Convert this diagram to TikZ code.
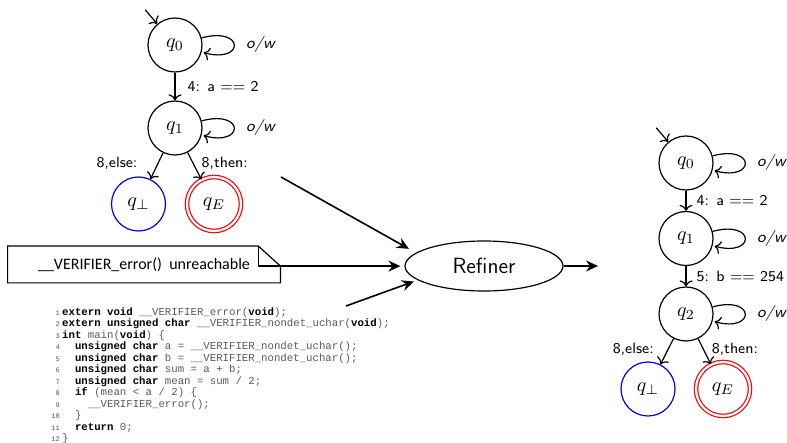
\documentclass[tikz,border=0pt]{standalone}
\usepackage{fontspec}
\newfontfamily\notefont{Carlito}
\newfontfamily\codefont{Liberation Mono}
\usetikzlibrary{automata,positioning,shapes.geometric,arrows,arrows.meta}

\newcommand{\kw}[1]{{\bfseries\color{black}#1}}
\newcommand{\lno}[1]{{\fontsize{3.5}{4}\selectfont #1}}

\begin{document}
\begin{tikzpicture}[x=0.5pt,y=0.5pt,
        font=\sffamily,
        >={To[length=3pt, width=6.5pt]},
        node distance=38pt,
        every state/.style={draw, semithick, minimum size=27pt, inner sep=0pt},
        every edge/.style={draw, semithick},
        lbl/.style={font=\sffamily\fontsize{7.5}{9}\selectfont, inner sep=1pt},
        ow/.style={font=\sffamily\itshape\footnotesize, right, xshift=2.5pt},
        sink/.style={draw=blue},
        errst/.style={draw=red, double, double distance=1.1pt, semithick},
        feed/.style={-{Stealth[length=6pt, width=5.5pt, inset=2pt]}, thick}
    ]
    \useasboundingbox (0,0) rectangle (787,-443);

    % automaton before refinement
    \node[state] (a0) at (175,-45) {$q_0$};
    \node[state, below of=a0, node distance=41.5pt] (a1) {$q_1$};
    \node[state, sink, below of=a1, xshift=-18.25pt] (abot) {$q_\bot$};
    \node[state, errst, below of=a1, xshift=19.5pt] (aerr) {$q_E$};
    \coordinate (a0in) at ([shift={(-12,14)}]a0.130);
    \draw[->, semithick] (a0in) -- (a0.130);
    \path[->] (a0) edge node[lbl, right=5pt] {4:\enspace a == 2} (a1)
              (a0) edge[loop right] node[ow] {o/w} ()
              (a1) edge[loop right] node[ow] {o/w} ()
              (a1) edge node[lbl, left=9pt, pos=0.4] {8,else:} (abot)
              (a1) edge node[lbl, right=3pt, pos=0.4] {8,then:} (aerr);

    % counterexample note
    \node[font=\notefont\footnotesize, minimum width=136pt, minimum height=18pt, inner sep=0pt] (note) at (144,-264.5) {\_\_VERIFIER\_error()\ \ unreachable};
    \draw[semithick] (note.south west) -- (note.north west) -- ([xshift=-11pt]note.north east)
        -- ([yshift=-10pt]note.north east) -- (note.south east) -- cycle;
    \draw[semithick] ([xshift=-11pt]note.north east) |- ([yshift=-10pt]note.north east);
    \coordinate (notetip) at ([yshift=-10pt]note.north east);

    % program
    \node[anchor=north west, inner sep=0pt, text=black!65, font=\codefont\fontsize{5.35}{5.73}\selectfont] (code) at (51,-307) {%
        \begin{tabular}{@{}r@{\hspace{1.2pt}}l@{}}
        \lno{1}&\kw{extern void} \_\_VERIFIER\_error(\kw{void});\\
        \lno{2}&\kw{extern unsigned char} \_\_VERIFIER\_nondet\_uchar(\kw{void});\\
        \lno{3}&\kw{int} main(\kw{void}) \{\\
        \lno{4}&~~\kw{unsigned char} a = \_\_VERIFIER\_nondet\_uchar();\\
        \lno{5}&~~\kw{unsigned char} b = \_\_VERIFIER\_nondet\_uchar();\\
        \lno{6}&~~\kw{unsigned char} sum = a + b;\\
        \lno{7}&~~\kw{unsigned char} mean = sum / 2;\\
        \lno{8}&~~\kw{if} (mean < a / 2) \{\\
        \lno{9}&~~~~\_\_VERIFIER\_error();\\
        \lno{10}&~~\}\\
        \lno{11}&~~\kw{return} 0;\\
        \lno{12}&\}
        \end{tabular}};

    % refiner
    \node[ellipse, draw, semithick, minimum width=79pt, minimum height=25pt, inner sep=0pt,
          font=\sffamily\fontsize{11}{13}\selectfont] (refiner) at (484,-266) {Refiner};
    \coordinate (autsrc) at (281,-177);
    \coordinate (codesrc) at (346,-306);
    \coordinate (refout) at (598,-266);
    \draw[feed, shorten >=4pt] (autsrc) -- (refiner.169);
    \draw[feed, shorten >=2pt] (notetip) -- (notetip -| refiner.west);
    \draw[feed, shorten >=2pt] (codesrc) -- (refiner.192);
    \draw[feed] (refiner) -- (refout);

    % refined automaton
    \node[state] (b0) at (686,-163) {$q_0$};
    \node[state, below of=b0, node distance=37.75pt] (b1) {$q_1$};
    \node[state, below of=b1, node distance=37.75pt] (b2) {$q_2$};
    \node[state, sink, below of=b2, node distance=37.5pt, xshift=-19pt] (bbot) {$q_\bot$};
    \node[state, errst, below of=b2, node distance=37.5pt, xshift=18.5pt] (berr) {$q_E$};
    \coordinate (b0in) at ([shift={(-12,14)}]b0.130);
    \draw[->, semithick] (b0in) -- (b0.130);
    \path[->] (b0) edge node[lbl, right=4pt] {4:\enspace a == 2} (b1)
              (b1) edge node[lbl, right=4pt] {5:\enspace b == 254} (b2)
              (b0) edge[loop right] node[ow] {o/w} ()
              (b1) edge[loop right] node[ow] {o/w} ()
              (b2) edge[loop right] node[ow] {o/w} ()
              (b2) edge node[lbl, left=6pt, pos=0.4] {8,else:} (bbot)
              (b2) edge node[lbl, right=3pt, pos=0.4] {8,then:} (berr);
\end{tikzpicture}
\end{document}
